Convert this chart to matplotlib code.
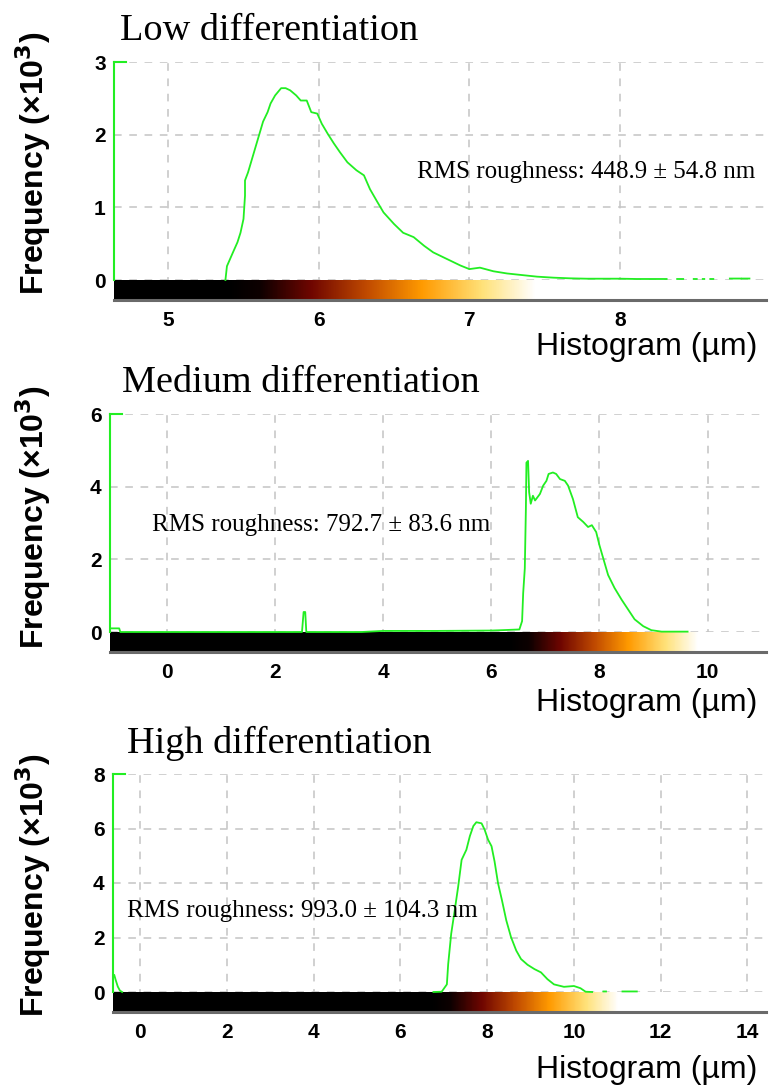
import numpy as np
import matplotlib
matplotlib.use('Agg')
import matplotlib.pyplot as plt
from matplotlib.colors import LinearSegmentedColormap

plt.rcParams['font.family'] = ['Liberation Sans', 'DejaVu Sans']

nan = np.nan

##################################
# Data (height in um, frequency in x10^3)
##################################
titles = ['Low differentiation', 'Medium differentiation', 'High differentiation']
rms_labels = ['RMS roughness: 448.9 \u00b1 54.8 nm',
              'RMS roughness: 792.7 \u00b1 83.6 nm',
              'RMS roughness: 993.0 \u00b1 104.3 nm']

low_x = [5.38, 5.39, 5.43, 5.46, 5.48, 5.50, 5.51, 5.51, 5.53, 5.55, 5.57, 5.59, 5.61,
         5.63, 5.66, 5.68, 5.71, 5.75, 5.78, 5.81, 5.85, 5.88, 5.92, 5.95, 5.99, 6.02,
         6.06, 6.10, 6.14, 6.19, 6.25, 6.30, 6.34, 6.39, 6.43, 6.50, 6.56, 6.63, 6.70,
         6.76, 6.85, 6.94, 7.00, 7.07, 7.16, 7.25, 7.34, 7.45, 7.56, 7.67, 7.78, 7.89,
         8.00, 8.11, 8.31, nan, 8.38, 8.42, nan, 8.49, 8.51, nan, 8.55, 8.56, nan,
         8.60, 8.62, nan, 8.73, 8.80, nan, 8.81, 8.86]
low_y = [0.0, 0.19, 0.38, 0.52, 0.65, 0.84, 1.16, 1.37, 1.48, 1.62, 1.76, 1.90, 2.04,
         2.18, 2.31, 2.43, 2.54, 2.64, 2.64, 2.61, 2.54, 2.47, 2.47, 2.31, 2.29, 2.15,
         2.01, 1.88, 1.76, 1.62, 1.51, 1.44, 1.25, 1.07, 0.93, 0.77, 0.65, 0.59, 0.47,
         0.38, 0.29, 0.20, 0.15, 0.17, 0.12, 0.09, 0.07, 0.046, 0.032, 0.023, 0.018, 0.018,
         0.018, 0.014, 0.014, nan, 0.014, 0.014, nan, 0.014, 0.014, nan, 0.014, 0.014, nan,
         0.014, 0.014, nan, 0.02, 0.02, nan, 0.02, 0.02]

med_x = [-1.05, -0.88, -0.86, 2.50, 2.53, 2.56, 2.58, 3.60, 4.00, 5.00, 6.00, 6.19,
         6.52, 6.57, 6.59, 6.62, 6.64, 6.65, 6.68, 6.70, 6.73, 6.77, 6.81, 6.90, 6.96,
         7.02, 7.06, 7.14, 7.20, 7.27, 7.36, 7.42, 7.51, 7.60, 7.70, 7.79, 7.86, 7.94,
         8.00, 8.07, 8.16, 8.28, 8.41, 8.53, 8.65, 8.81, 8.96, 9.15, 9.63]
med_y = [0.10, 0.10, 0.0, 0.0, 0.55, 0.55, 0.0, 0.0, 0.03, 0.03, 0.04, 0.05,
         0.07, 0.30, 1.07, 1.75, 3.39, 4.66, 4.71, 3.85, 3.53, 3.75, 3.62, 3.80, 4.03,
         4.16, 4.35, 4.39, 4.35, 4.21, 4.16, 4.03, 3.66, 3.16, 3.03, 2.89, 2.94, 2.75,
         2.39, 2.03, 1.57, 1.21, 0.89, 0.62, 0.35, 0.16, 0.05, 0.01, 0.01]

high_x = [-0.60, -0.57, -0.52, -0.47, -0.42, nan, 6.76, 6.95, 7.07, 7.10, 7.17, 7.24,
          7.33, 7.41, 7.52, 7.60, 7.68, 7.75, 7.87, 7.94, 8.02, 8.10, 8.17, 8.25, 8.34,
          8.44, 8.55, 8.67, 8.78, 8.93, 9.09, 9.24, 9.39, 9.54, 9.77, 10.00, 10.15,
          10.27, 10.42, nan, 10.68, 10.74, nan, 11.12, 11.45]
high_y = [0.62, 0.45, 0.20, 0.05, 0.0, nan, 0.0, 0.01, 0.28, 1.02, 2.14, 2.88,
          3.86, 4.85, 5.22, 5.72, 6.09, 6.23, 6.19, 5.96, 5.59, 5.35, 4.79, 3.99, 3.37,
          2.63, 2.01, 1.52, 1.21, 1.00, 0.84, 0.72, 0.47, 0.28, 0.19, 0.22, 0.14,
          0.01, 0.0, nan, 0.02, 0.02, nan, 0.02, 0.02]

xlims = [(4.64, 8.97), (-1.05, 11.08), (-0.63, 14.43)]
xticks = [[5, 6, 7, 8], [0, 2, 4, 6, 8, 10], [0, 2, 4, 6, 8, 10, 12, 14]]
ymax = [3, 6, 8]
yticks = [[0, 1, 2, 3], [0, 2, 4, 6], [0, 2, 4, 6, 8]]
# colour bar range (black -> white) under each histogram
bar_range = [(5.40, 7.44), (6.35, 9.83), (6.72, 11.03)]
rms_pos = [(6.65, 1.48), (-0.28, 2.94), (-0.30, 2.96)]

##################################
# Layout (pixels of the 769x1091 figure)
##################################
W, H = 769.0, 1091.0
axes_px = [(114, 62, 300), (110, 414, 652), (113, 774, 1012)]   # left, top, bottom
title_px = [(120, 40), (122, 392), (127, 753)]                  # left, baseline
xlabel_y = [347, 703, 1070]
ylabel_y = [163, 517, 885]

green = '#22ee22'
heat = LinearSegmentedColormap.from_list('heat', [
    (0.0, '#000000'), (0.10, '#0d0000'), (0.27, '#700600'), (0.45, '#c04a00'),
    (0.63, '#ff9a00'), (0.83, '#ffe27a'), (1.0, '#ffffff')])

fig = plt.figure(figsize=(W / 100, H / 100), dpi=100)

series = [(low_x, low_y), (med_x, med_y), (high_x, high_y)]

for i in range(3):
    left, top, bottom = axes_px[i]
    ax = fig.add_axes([left / W, 1 - bottom / H, (766 - left) / W, (bottom - top) / H])
    ybot = -ymax[i] * 20.0 / 218.0
    x0, x1 = xlims[i]

    # colour bar strip
    xs = np.linspace(x0, x1, 800)
    g0, g1 = bar_range[i]
    grad = np.clip((xs - g0) / (g1 - g0), 0, 1)[np.newaxis, :]
    ax.imshow(grad, cmap=heat, aspect='auto', extent=[x0, x1, ybot, 0],
              interpolation='bilinear', zorder=1.5, vmin=0, vmax=1)

    x, y = series[i]
    ax.plot(x, y, color=green, lw=1.3, zorder=3, clip_on=False)

    ax.set_xlim(x0, x1)
    ax.set_ylim(ybot, ymax[i])
    ax.set_xticks(xticks[i])
    ax.set_yticks(yticks[i])
    ax.tick_params(length=0, labelsize=15, pad=6)
    for lab in ax.get_xticklabels() + ax.get_yticklabels():
        lab.set_fontweight('bold')
    ax.tick_params(axis='x', pad=8)

    ax.grid(True, color='#c4c4c4', linestyle=(0, (5, 5)), lw=1.1)
    ax.set_axisbelow(True)

    for s in ['top', 'right']:
        ax.spines[s].set_visible(False)
    ax.spines['bottom'].set_color('#6a6a6a')
    ax.spines['bottom'].set_linewidth(2.2)
    ax.spines['left'].set_color(green)
    ax.spines['left'].set_linewidth(1.5)
    ax.spines['left'].set_bounds(0, ymax[i])
    ax.axhline(ymax[i], 0, 0.018, color=green, lw=1.5, zorder=3, clip_on=False)

    ax.text(rms_pos[i][0], rms_pos[i][1], rms_labels[i], family='Liberation Serif',
            fontsize=18, ha='left', va='center', zorder=4)

    tx, ty = title_px[i]
    fig.text(tx / W, 1 - ty / H, titles[i], family='Liberation Serif', fontsize=27.5,
             ha='left', va='baseline')
    fig.text(757 / W, 1 - xlabel_y[i] / H, 'Histogram (\u00b5m)', fontsize=23,
             ha='right', va='center')
    fig.text(33 / W, 1 - ylabel_y[i] / H, 'Frequency (\u00d710$^\\mathbf{3}$)', fontsize=23,
             fontweight='bold', rotation=90, ha='center', va='center')

fig.savefig('out.png', dpi=100)
